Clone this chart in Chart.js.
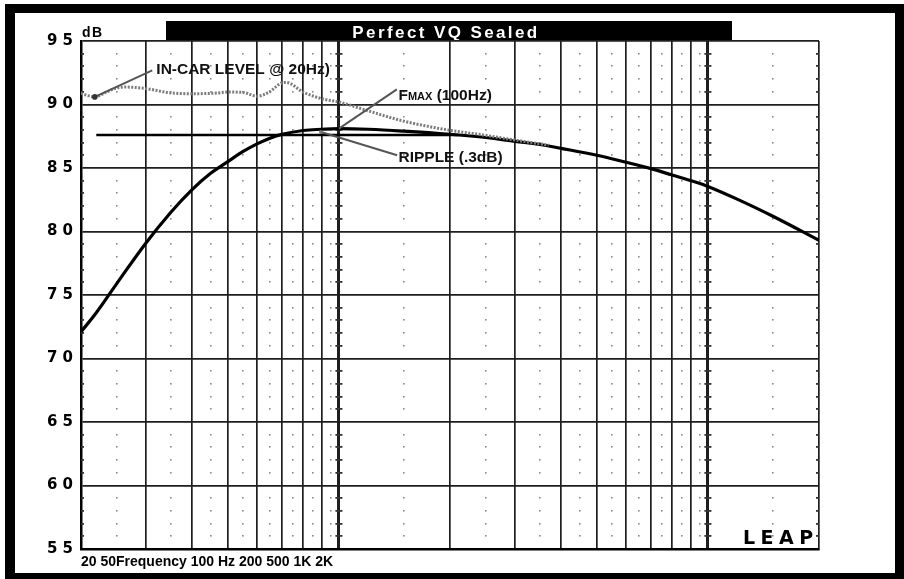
<!DOCTYPE html>
<html><head><meta charset="utf-8">
<script src="https://cdn.jsdelivr.net/npm/chart.js@4.4.1/dist/chart.umd.min.js"></script>
<style>html,body{margin:0;padding:0;background:#fff;}canvas{display:block}</style>
</head><body>
<canvas id="c" width="904" height="579"></canvas>
<script>
// ---- text ----
const TITLE = 'Perfect VQ Sealed';
const X_AXIS_TEXT = '20 50Frequency 100 Hz 200 500 1K 2K';
const Y_UNIT = 'dB';
const LOGO = 'LEAP';

// ---- axes ----
const X_MIN = 20, X_MAX = 2000;
const Y_MIN = 55, Y_MAX = 95, Y_STEP = 5;
const X_GRID = [20, 30, 40, 50, 60, 70, 80, 90, 100, 200, 300, 400, 500, 600, 700, 800, 900, 1000, 2000];
const X_MAJOR = [100, 1000];
const X_MINOR_DOTS = [25, 35, 45, 55, 65, 75, 85, 95, 150, 250, 350, 450, 550, 650, 750, 850, 950, 1500];
const Y_MINOR = [56,57,58,59,61,62,63,64,66,67,68,69,71,72,73,74,76,77,78,79,81,82,83,84,86,87,88,89,91,92,93,94];

// ---- series ----
const RESPONSE_FREQ = [20, 22, 25, 30, 35, 40, 45, 50, 55, 60, 65, 70, 80, 90, 100, 120, 150, 200, 250, 300, 350, 400, 500, 600, 700, 800, 900, 1000, 1200, 1500, 2000];
const RESPONSE_DB   = [72.1, 73.6, 75.9, 79.1, 81.5, 83.3, 84.6, 85.5, 86.3, 86.9, 87.35, 87.65, 87.95, 88.05, 88.1, 88.05, 87.9, 87.65, 87.4, 87.1, 86.85, 86.55, 86.0, 85.45, 84.95, 84.45, 84.0, 83.55, 82.55, 81.2, 79.3];

const INCAR_FREQ = [20, 21.8, 23.5, 25, 26.5, 30, 34.7, 40, 46.5, 50, 55, 60, 64.7, 70, 72, 80, 90, 100, 120, 147, 180, 200, 246, 300, 370];
const INCAR_DB   = [90.86, 90.6, 91.0, 91.3, 91.37, 91.25, 90.93, 90.85, 90.9, 90.98, 90.95, 90.65, 90.98, 91.7, 91.74, 90.98, 90.45, 90.2, 89.5, 88.75, 88.2, 87.97, 87.6, 87.2, 86.8];

const RIPPLE_FREQ = [22, 210];
const RIPPLE_DB   = [87.6, 87.6];

// ---- annotations (data coordinates: Hz, dB) ----
const NOTE_INCAR  = {text: 'IN-CAR LEVEL @ 20Hz)', at: [32, 92.42], from: [21.8, 90.6], to: [31.2, 92.68]};
const NOTE_FMAX   = {at: [145, 90.32], from: [100, 88.1], to: [143.5, 91.19]};
const NOTE_RIPPLE = {text: 'RIPPLE (.3dB)', at: [145, 85.47], from: [89.4, 87.83], to: [143.8, 86.0]};

const toXY = (xs, ys) => xs.map((x, i) => ({x, y: ys[i]}));

const FONT = "'Liberation Sans', Arial, sans-serif";

const decor = {
  id: 'decor',
  beforeDraw(chart) {
    const {ctx, width, height} = chart;
    ctx.save();
    ctx.fillStyle = '#fff'; ctx.fillRect(0, 0, width, height);
    ctx.fillStyle = '#000'; ctx.fillRect(5, 4, width - 5, height - 4);
    ctx.fillStyle = '#fff'; ctx.fillRect(15, 13, 880, 560);
    // title bar
    ctx.fillStyle = '#000'; ctx.fillRect(166, 21, 566, 19);
    ctx.fillStyle = '#fff';
    ctx.font = "bold 17px " + FONT;
    ctx.letterSpacing = '2.4px';
    ctx.textAlign = 'center'; ctx.textBaseline = 'alphabetic';
    ctx.fillText(TITLE, 446, 37.5);
    ctx.restore();
  },
  beforeDatasetsDraw(chart) {
    const {ctx, scales: {x, y}, chartArea: ca} = chart;
    ctx.save();
    ctx.fillStyle = '#8a8a8a';
    X_MINOR_DOTS.forEach(f => {
      const px = Math.round(x.getPixelForValue(f));
      Y_MINOR.forEach(d => {
        const py = Math.round(y.getPixelForValue(d));
        ctx.fillRect(px - 1, py - 1, 1.6, 1.6);
      });
    });
    ctx.fillStyle = '#333';
    X_MAJOR.forEach(f => {
      const px = x.getPixelForValue(f);
      Y_MINOR.forEach(d => {
        const py = Math.round(y.getPixelForValue(d));
        ctx.fillRect(px - 3.5, py - 1, 7, 1.8);
      });
    });
    Y_MINOR.forEach(d => {
      const py = Math.round(y.getPixelForValue(d));
      ctx.fillRect(ca.left, py - 1, 3, 1.8);
      ctx.fillRect(ca.right - 3, py - 1, 3, 1.8);
    });
    // unit label
    ctx.fillStyle = '#000';
    ctx.font = "bold 14px " + FONT;
    ctx.letterSpacing = '1.5px';
    ctx.textAlign = 'left'; ctx.textBaseline = 'alphabetic';
    ctx.fillText(Y_UNIT, ca.left + 1, ca.top - 4);
    ctx.restore();
  },
  afterDatasetsDraw(chart) {
    const {ctx, scales: {x, y}, chartArea: ca} = chart;
    const P = (v) => [x.getPixelForValue(v[0]), y.getPixelForValue(v[1])];
    ctx.save();
    // leader lines
    ctx.strokeStyle = '#555'; ctx.lineWidth = 2;
    [NOTE_INCAR, NOTE_FMAX, NOTE_RIPPLE].forEach(n => {
      const a = P(n.from), b = P(n.to);
      ctx.beginPath(); ctx.moveTo(a[0], a[1]); ctx.lineTo(b[0], b[1]); ctx.stroke();
    });
    ctx.fillStyle = '#333';
    let d = P(NOTE_INCAR.from);
    ctx.beginPath(); ctx.arc(d[0], d[1], 2.8, 0, Math.PI * 2); ctx.fill();
    ctx.fillStyle = '#777';
    d = P(NOTE_RIPPLE.from);
    ctx.beginPath(); ctx.arc(d[0], d[1], 2, 0, Math.PI * 2); ctx.fill();
    // labels
    ctx.fillStyle = '#111';
    ctx.textAlign = 'left'; ctx.textBaseline = 'alphabetic';
    ctx.font = "bold 15.5px " + FONT;
    let p = P(NOTE_INCAR.at);
    ctx.fillText(NOTE_INCAR.text, p[0], p[1]);
    p = P(NOTE_RIPPLE.at);
    ctx.fillText(NOTE_RIPPLE.text, p[0], p[1]);
    p = P(NOTE_FMAX.at);
    let cx = p[0];
    ctx.font = "bold 15.5px " + FONT;
    ctx.fillText('F', cx, p[1]); cx += ctx.measureText('F').width;
    ctx.font = "bold 11px " + FONT;
    ctx.fillText('MAX', cx, p[1]); cx += ctx.measureText('MAX').width;
    ctx.font = "bold 15.5px " + FONT;
    ctx.fillText(' (100Hz)', cx, p[1]);
    // logo
    ctx.font = "bold 19px 'DejaVu Sans', sans-serif";
    ctx.letterSpacing = '5.5px';
    ctx.fillStyle = '#000';
    ctx.fillText(LOGO, ca.right - 76, ca.bottom - 5);
    ctx.restore();
  }
};

new Chart(document.getElementById('c'), {
  type: 'line',
  data: {
    datasets: [
      {label: 'Response', data: toXY(RESPONSE_FREQ, RESPONSE_DB), borderColor: '#000', borderWidth: 3.2,
       pointRadius: 0, tension: 0.4, fill: false, order: 2},
      {label: 'Ripple', data: toXY(RIPPLE_FREQ, RIPPLE_DB), borderColor: '#000', borderWidth: 2.6,
       pointRadius: 0, tension: 0, fill: false, order: 3},
      {label: 'In-car level', data: toXY(INCAR_FREQ, INCAR_DB), borderColor: '#7c7c7c', borderWidth: 3,
       borderDash: [2, 1.5], pointRadius: 0, cubicInterpolationMode: 'monotone', fill: false, order: 1}
    ]
  },
  options: {
    responsive: false,
    animation: false,
    devicePixelRatio: 1,
    layout: {padding: {top: 41, right: 85, bottom: 0, left: 0}},
    plugins: {legend: {display: false}, title: {display: false}, tooltip: {enabled: false}},
    scales: {
      x: {
        type: 'logarithmic', min: X_MIN, max: X_MAX,
        afterBuildTicks: s => { s.ticks = X_GRID.map(v => ({value: v})); },
        afterFit: s => { s.height = 30; },
        ticks: {display: false},
        grid: {color: '#1e1e1e', drawTicks: false,
               lineWidth: c => (c.tick && X_MAJOR.includes(c.tick.value)) ? 3 : 1.7},
        border: {display: true, color: '#000', width: 2.5},
        title: {display: true, text: X_AXIS_TEXT, align: 'start', color: '#000',
                font: {family: FONT, size: 14, weight: 'bold'}, padding: {top: 0, bottom: 8}}
      },
      y: {
        type: 'linear', min: Y_MIN, max: Y_MAX,
        afterFit: s => { s.width = 81; },
        ticks: {stepSize: Y_STEP, padding: 8, color: '#000',
                font: {family: "'DejaVu Sans', sans-serif", size: 15, weight: 'bold'},
                callback: v => String(v).split('').join(' ')},
        grid: {color: '#1e1e1e', lineWidth: 1.8, drawTicks: false},
        border: {display: true, color: '#000', width: 2.5}
      }
    }
  },
  plugins: [decor]
});
</script>
</body></html>
